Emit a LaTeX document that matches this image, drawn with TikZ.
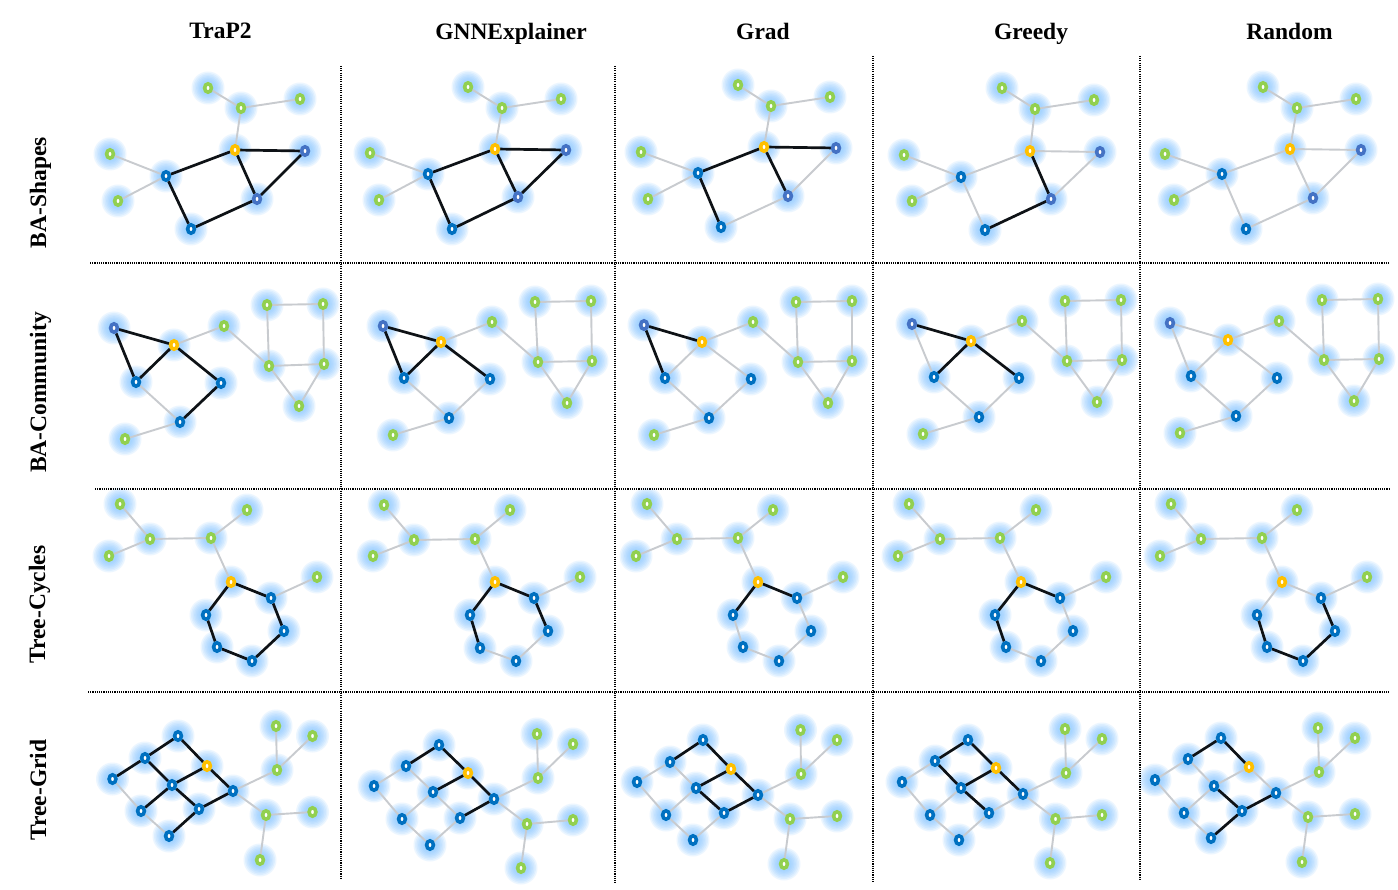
\documentclass[tikz,border=0pt]{standalone}
\usepackage{fontspec}
\setmainfont{Liberation Serif}
\usetikzlibrary{shapes.geometric}
\pgfdeclarelayer{glowl}
\pgfdeclarelayer{edgel}
\pgfsetlayers{glowl,edgel,main}
\definecolor{cgreen}{HTML}{92D050}
\definecolor{cblue}{HTML}{0070C0}
\definecolor{cpurp}{HTML}{4472C4}
\definecolor{corange}{HTML}{FFC000}
\definecolor{glowc}{HTML}{7DC3FF}
\definecolor{edgegray}{HTML}{C8CBCF}
\definecolor{edgeblack}{HTML}{0E1216}
\tikzset{
  vtx/.style={ellipse, minimum width=6.8pt, minimum height=8.4pt, inner sep=0pt, line width=3.6pt, fill=white},
  ngreen/.style={vtx, draw=cgreen},
  nblue/.style={vtx, draw=cblue},
  npurp/.style={vtx, draw=cpurp},
  norange/.style={vtx, draw=corange},
  glow/.style={fill=glowc, opacity=0.14},
  gedge/.style={draw=edgegray, line width=1.9pt},
  bedge/.style={draw=edgeblack, line width=2.7pt},
  sepline/.style={draw=black, line width=1.1pt, dash pattern=on 1.1pt off 1.1pt},
  hdr/.style={font=\fontsize{23.5}{28}\selectfont\bfseries, inner sep=0pt, anchor=base},
  rowlab/.style={hdr, rotate=90},
}
\newcommand\nd[4]{\begin{pgfonlayer}{glowl}\foreach \r in {16.5,15,13.5,12,10.5,9,7.5}{\fill[glow] (#3,#4) circle (\r);}\end{pgfonlayer}\node[#1] (#2) at (#3,#4) {};}
\begin{document}
\begin{tikzpicture}[x=1pt,y=-1pt]
\begin{pgfonlayer}{glowl}
\fill[white] (0,0) rectangle (1398,890);
\end{pgfonlayer}
\useasboundingbox (0,0) rectangle (1398,890);

% headers
\node[hdr] (h1) at (220.5,39) {TraP2};
\node[hdr] (h2) at (511,39.5) {GNNExplainer};
\node[hdr] (h3) at (763,40) {Grad};
\node[hdr] (h4) at (1031,40) {Greedy};
\node[hdr] (h5) at (1289.5,40) {Random};
% row labels
\node[rowlab] (l1) at (46,192.5) {BA-Shapes};
\node[rowlab] (l2) at (46,392.5) {BA-Community};
\node[rowlab] (l3) at (45,604.5) {Tree-Cycles};
\node[rowlab] (l4) at (46,790) {Tree-Grid};

% separators
\draw[sepline] (341,66) -- (341,878);
\draw[sepline] (615,66) -- (615,883);
\draw[sepline] (873,56) -- (873,882);
\draw[sepline] (1140,56) -- (1140,879);
\draw[sepline] (90,263) -- (1390,263);
\draw[sepline] (95,489) -- (1390,489);
\draw[sepline] (88,692) -- (1390,692);

% ---------------- Row A: BA-Shapes
\nd{ngreen}{A1g1}{208}{88}\nd{ngreen}{A1g2}{241}{108}\nd{ngreen}{A1g3}{300}{99}\nd{norange}{A1o}{235}{150}\nd{npurp}{A1p1}{305}{151}
\nd{ngreen}{A1g4}{110}{154}\nd{nblue}{A1b1}{166}{176}\nd{ngreen}{A1g5}{118}{201}\nd{npurp}{A1p2}{257}{199}\nd{nblue}{A1b2}{191}{229}

\nd{ngreen}{A2g1}{468}{87}\nd{ngreen}{A2g2}{502}{108}\nd{ngreen}{A2g3}{561}{99}\nd{norange}{A2o}{495}{149}\nd{npurp}{A2p1}{566}{150}
\nd{ngreen}{A2g4}{370}{153}\nd{nblue}{A2b1}{428}{174}\nd{ngreen}{A2g5}{379}{200}\nd{npurp}{A2p2}{518}{197}\nd{nblue}{A2b2}{452}{229}

\nd{ngreen}{A3g1}{738}{85}\nd{ngreen}{A3g2}{771}{106}\nd{ngreen}{A3g3}{830}{97}\nd{norange}{A3o}{764}{147}\nd{npurp}{A3p1}{836}{148}
\nd{ngreen}{A3g4}{641}{152}\nd{nblue}{A3b1}{698}{173}\nd{ngreen}{A3g5}{648}{199}\nd{npurp}{A3p2}{788}{196}\nd{nblue}{A3b2}{721}{227}

\nd{ngreen}{A4g1}{1002}{88}\nd{ngreen}{A4g2}{1035}{109}\nd{ngreen}{A4g3}{1094}{100}\nd{norange}{A4o}{1030}{151}\nd{npurp}{A4p1}{1100}{152}
\nd{ngreen}{A4g4}{904}{155}\nd{nblue}{A4b1}{961}{177}\nd{ngreen}{A4g5}{912}{201}\nd{npurp}{A4p2}{1051}{199}\nd{nblue}{A4b2}{985}{230}

\nd{ngreen}{A5g1}{1263}{87}\nd{ngreen}{A5g2}{1297}{108}\nd{ngreen}{A5g3}{1356}{99}\nd{norange}{A5o}{1290}{149}\nd{npurp}{A5p1}{1361}{150}
\nd{ngreen}{A5g4}{1165}{154}\nd{nblue}{A5b1}{1222}{174}\nd{ngreen}{A5g5}{1174}{200}\nd{npurp}{A5p2}{1313}{198}\nd{nblue}{A5b2}{1246}{229}

% ---------------- Row B: BA-Community
\nd{npurp}{B1p}{114}{328}\nd{norange}{B1o}{174}{345}\nd{ngreen}{B1g1}{224}{326}\nd{nblue}{B1b1}{136}{382}\nd{nblue}{B1b2}{221}{383}\nd{nblue}{B1b3}{180}{422}\nd{ngreen}{B1g2}{125}{439}
\nd{ngreen}{B1ga}{267}{305}\nd{ngreen}{B1gb}{323}{304}\nd{ngreen}{B1gc}{269}{366}\nd{ngreen}{B1gd}{324}{364}\nd{ngreen}{B1ge}{299}{406}

\nd{npurp}{B2p}{383}{326}\nd{norange}{B2o}{441}{342}\nd{ngreen}{B2g1}{492}{322}\nd{nblue}{B2b1}{404}{378}\nd{nblue}{B2b2}{490}{379}\nd{nblue}{B2b3}{449}{418}\nd{ngreen}{B2g2}{393}{435}
\nd{ngreen}{B2ga}{535}{302}\nd{ngreen}{B2gb}{591}{301}\nd{ngreen}{B2gc}{538}{362}\nd{ngreen}{B2gd}{592}{361}\nd{ngreen}{B2ge}{567}{403}

\nd{npurp}{B3p}{644}{325}\nd{norange}{B3o}{702}{342}\nd{ngreen}{B3g1}{753}{322}\nd{nblue}{B3b1}{665}{378}\nd{nblue}{B3b2}{751}{379}\nd{nblue}{B3b3}{709}{418}\nd{ngreen}{B3g2}{654}{435}
\nd{ngreen}{B3ga}{796}{302}\nd{ngreen}{B3gb}{852}{301}\nd{ngreen}{B3gc}{798}{362}\nd{ngreen}{B3gd}{852}{361}\nd{ngreen}{B3ge}{828}{403}

\nd{npurp}{B4p}{912}{324}\nd{norange}{B4o}{971}{341}\nd{ngreen}{B4g1}{1022}{321}\nd{nblue}{B4b1}{934}{377}\nd{nblue}{B4b2}{1019}{378}\nd{nblue}{B4b3}{979}{417}\nd{ngreen}{B4g2}{923}{434}
\nd{ngreen}{B4ga}{1065}{301}\nd{ngreen}{B4gb}{1121}{300}\nd{ngreen}{B4gc}{1067}{361}\nd{ngreen}{B4gd}{1122}{360}\nd{ngreen}{B4ge}{1097}{402}

\nd{npurp}{B5p}{1170}{323}\nd{norange}{B5o}{1228}{340}\nd{ngreen}{B5g1}{1279}{321}\nd{nblue}{B5b1}{1191}{376}\nd{nblue}{B5b2}{1277}{378}\nd{nblue}{B5b3}{1236}{416}\nd{ngreen}{B5g2}{1180}{433}
\nd{ngreen}{B5ga}{1322}{300}\nd{ngreen}{B5gb}{1378}{299}\nd{ngreen}{B5gc}{1324}{360}\nd{ngreen}{B5gd}{1379}{359}\nd{ngreen}{B5ge}{1354}{401}

% ---------------- Row C: Tree-Cycles
\nd{ngreen}{C1t1}{120}{504}\nd{ngreen}{C1t2}{150}{539}\nd{ngreen}{C1t3}{109}{556}\nd{ngreen}{C1t4}{211}{538}\nd{ngreen}{C1t5}{247}{510}\nd{norange}{C1o}{231}{582}
\nd{nblue}{C1c1}{271}{598}\nd{ngreen}{C1g6}{317}{577}\nd{nblue}{C1c2}{206}{615}\nd{nblue}{C1c3}{284}{631}\nd{nblue}{C1c4}{217}{647}\nd{nblue}{C1c5}{252}{661}

\nd{ngreen}{C2t1}{384}{505}\nd{ngreen}{C2t2}{414}{540}\nd{ngreen}{C2t3}{373}{556}\nd{ngreen}{C2t4}{475}{539}\nd{ngreen}{C2t5}{510}{510}\nd{norange}{C2o}{495}{582}
\nd{nblue}{C2c1}{534}{598}\nd{ngreen}{C2g6}{580}{577}\nd{nblue}{C2c2}{470}{615}\nd{nblue}{C2c3}{548}{631}\nd{nblue}{C2c4}{480}{648}\nd{nblue}{C2c5}{516}{661}

\nd{ngreen}{C3t1}{647}{504}\nd{ngreen}{C3t2}{677}{539}\nd{ngreen}{C3t3}{636}{556}\nd{ngreen}{C3t4}{738}{538}\nd{ngreen}{C3t5}{773}{510}\nd{norange}{C3o}{758}{582}
\nd{nblue}{C3c1}{797}{598}\nd{ngreen}{C3g6}{843}{577}\nd{nblue}{C3c2}{733}{615}\nd{nblue}{C3c3}{811}{631}\nd{nblue}{C3c4}{743}{647}\nd{nblue}{C3c5}{779}{661}

\nd{ngreen}{C4t1}{909}{504}\nd{ngreen}{C4t2}{940}{539}\nd{ngreen}{C4t3}{898}{556}\nd{ngreen}{C4t4}{1000}{538}\nd{ngreen}{C4t5}{1036}{510}\nd{norange}{C4o}{1021}{582}
\nd{nblue}{C4c1}{1060}{598}\nd{ngreen}{C4g6}{1106}{577}\nd{nblue}{C4c2}{995}{615}\nd{nblue}{C4c3}{1073}{631}\nd{nblue}{C4c4}{1006}{647}\nd{nblue}{C4c5}{1041}{661}

\nd{ngreen}{C5t1}{1171}{504}\nd{ngreen}{C5t2}{1201}{539}\nd{ngreen}{C5t3}{1160}{556}\nd{ngreen}{C5t4}{1262}{538}\nd{ngreen}{C5t5}{1297}{510}\nd{norange}{C5o}{1282}{582}
\nd{nblue}{C5c1}{1321}{598}\nd{ngreen}{C5g6}{1367}{577}\nd{nblue}{C5c2}{1257}{615}\nd{nblue}{C5c3}{1335}{631}\nd{nblue}{C5c4}{1267}{647}\nd{nblue}{C5c5}{1303}{661}

% ---------------- Row D: Tree-Grid
\nd{nblue}{D1a}{178}{736}\nd{nblue}{D1b}{145}{758}\nd{nblue}{D1c}{112.5}{779}\nd{norange}{D1o}{207}{766}\nd{nblue}{D1d}{172}{785}\nd{nblue}{D1e}{141}{811}\nd{nblue}{D1f}{233}{791}\nd{nblue}{D1g}{199}{809}\nd{nblue}{D1h}{169}{836}
\nd{ngreen}{D1G1}{276}{726}\nd{ngreen}{D1G2}{312.5}{736}\nd{ngreen}{D1G3}{277}{770}\nd{ngreen}{D1G4}{266}{815}\nd{ngreen}{D1G5}{312.5}{812}\nd{ngreen}{D1G6}{260}{860}

\nd{nblue}{D2a}{439}{745}\nd{nblue}{D2b}{406}{766}\nd{nblue}{D2c}{374}{786}\nd{norange}{D2o}{468}{773}\nd{nblue}{D2d}{433}{792}\nd{nblue}{D2e}{402}{819}\nd{nblue}{D2f}{494}{799}\nd{nblue}{D2g}{460}{818}\nd{nblue}{D2h}{430}{845}
\nd{ngreen}{D2G1}{537}{734}\nd{ngreen}{D2G2}{573}{744}\nd{ngreen}{D2G3}{538}{778}\nd{ngreen}{D2G4}{527}{824}\nd{ngreen}{D2G5}{573}{820}\nd{ngreen}{D2G6}{521}{868}

\nd{nblue}{D3a}{703}{740}\nd{nblue}{D3b}{670}{762}\nd{nblue}{D3c}{637}{782}\nd{norange}{D3o}{731}{769}\nd{nblue}{D3d}{696}{788}\nd{nblue}{D3e}{666}{815}\nd{nblue}{D3f}{758}{795}\nd{nblue}{D3g}{724}{813}\nd{nblue}{D3h}{693}{840}
\nd{ngreen}{D3G1}{800.5}{730}\nd{ngreen}{D3G2}{837}{740}\nd{ngreen}{D3G3}{801}{774}\nd{ngreen}{D3G4}{790}{819}\nd{ngreen}{D3G5}{837}{816}\nd{ngreen}{D3G6}{784}{864}

\nd{nblue}{D4a}{968}{740}\nd{nblue}{D4b}{935}{761}\nd{nblue}{D4c}{902}{782}\nd{norange}{D4o}{996}{768}\nd{nblue}{D4d}{961}{788}\nd{nblue}{D4e}{930}{815}\nd{nblue}{D4f}{1023}{794}\nd{nblue}{D4g}{989}{813}\nd{nblue}{D4h}{959}{840}
\nd{ngreen}{D4G1}{1065}{729}\nd{ngreen}{D4G2}{1102}{739}\nd{ngreen}{D4G3}{1066}{773}\nd{ngreen}{D4G4}{1055.5}{819}\nd{ngreen}{D4G5}{1102}{815}\nd{ngreen}{D4G6}{1050}{863}

\nd{nblue}{D5a}{1221}{738}\nd{nblue}{D5b}{1188}{759}\nd{nblue}{D5c}{1155}{780}\nd{norange}{D5o}{1249}{767}\nd{nblue}{D5d}{1214}{786}\nd{nblue}{D5e}{1184}{813}\nd{nblue}{D5f}{1276}{793}\nd{nblue}{D5g}{1242}{811}\nd{nblue}{D5h}{1211}{838}
\nd{ngreen}{D5G1}{1318}{728}\nd{ngreen}{D5G2}{1355}{738}\nd{ngreen}{D5G3}{1319}{772}\nd{ngreen}{D5G4}{1308}{817}\nd{ngreen}{D5G5}{1355}{814}\nd{ngreen}{D5G6}{1302}{862}

% ---------------- edges
\begin{pgfonlayer}{edgel}
% Row A
\foreach \p in {A1,A2,A3,A4,A5}
  \foreach \u/\v in {g1/g2,g2/g3,g2/o,g4/b1,g5/b1}
    \draw[gedge] (\p\u) -- (\p\v);
\foreach \p/\u/\v in {A3/p1/p2,A3/b2/p2,A4/b1/o,A4/o/p1,A4/p1/p2,A4/b1/b2,
    A5/b1/o,A5/o/p1,A5/o/p2,A5/p1/p2,A5/b1/b2,A5/b2/p2}
  \draw[gedge] (\p\u) -- (\p\v);
\foreach \p/\u/\v in {A1/b1/o,A1/o/p1,A1/o/p2,A1/p1/p2,A1/b1/b2,A1/b2/p2,
    A2/b1/o,A2/o/p1,A2/o/p2,A2/p1/p2,A2/b1/b2,A2/b2/p2,
    A3/b1/o,A3/o/p1,A3/o/p2,A3/b1/b2,A4/o/p2,A4/b2/p2}
  \draw[bedge] (\p\u) -- (\p\v);
% Row B
\foreach \p in {B1,B2,B3,B4,B5}
  \foreach \u/\v in {o/g1,b3/g2,g1/gc,ga/gb,ga/gc,gb/gd,gc/gd,gc/ge,gd/ge}
    \draw[gedge] (\p\u) -- (\p\v);
\foreach \p/\u/\v in {B1/b1/b3,B2/b2/b3,B2/b1/b3,B3/o/b1,B3/o/b2,B3/b2/b3,B3/b1/b3,
    B4/p/b1,B4/b2/b3,B4/b1/b3,B5/p/o,B5/p/b1,B5/o/b1,B5/o/b2,B5/b2/b3,B5/b1/b3}
  \draw[gedge] (\p\u) -- (\p\v);
\foreach \p/\u/\v in {B1/p/o,B1/p/b1,B1/o/b1,B1/o/b2,B1/b2/b3,
    B2/p/o,B2/p/b1,B2/o/b1,B2/o/b2,B3/p/o,B3/p/b1,B4/p/o,B4/o/b1,B4/o/b2}
  \draw[bedge] (\p\u) -- (\p\v);
% Row C
\foreach \p in {C1,C2,C3,C4,C5}
  \foreach \u/\v in {t1/t2,t3/t2,t2/t4,t4/t5,t4/o,c1/g6}
    \draw[gedge] (\p\u) -- (\p\v);
\foreach \p/\u/\v in {C2/c4/c5,C2/c5/c3,C3/c2/c4,C3/c4/c5,C3/c5/c3,C3/c3/c1,
    C4/c4/c5,C4/c5/c3,C4/c3/c1,C5/o/c1,C5/o/c2}
  \draw[gedge] (\p\u) -- (\p\v);
\foreach \p/\u/\v in {C1/o/c1,C1/o/c2,C1/c2/c4,C1/c4/c5,C1/c5/c3,C1/c3/c1,
    C2/o/c1,C2/o/c2,C2/c2/c4,C2/c3/c1,C3/o/c1,C3/o/c2,C4/o/c1,C4/o/c2,C4/c2/c4,
    C5/c3/c1,C5/c5/c3,C5/c4/c5,C5/c2/c4}
  \draw[bedge] (\p\u) -- (\p\v);
% Row D
\foreach \p in {D1,D2,D3,D4,D5}
  \foreach \u/\v in {f/G3,f/G4,G3/G1,G3/G2,G4/G5,G4/G6}
    \draw[gedge] (\p\u) -- (\p\v);
\foreach \p/\u/\v in {D1/c/e,D1/e/h,
    D2/b/c,D2/b/d,D2/d/e,D2/d/g,D2/c/e,D2/e/h,D2/g/h,
    D3/b/c,D3/b/d,D3/d/e,D3/c/e,D3/e/h,D3/g/h,
    D4/b/c,D4/d/e,D4/c/e,D4/e/h,D4/f/g,D4/g/h,
    D5/b/c,D5/o/d,D5/o/f,D5/b/d,D5/d/e,D5/c/e,D5/e/h}
  \draw[gedge] (\p\u) -- (\p\v);
\foreach \p/\u/\v in {D1/b/c,D1/a/b,D1/a/o,D1/b/d,D1/o/d,D1/o/f,D1/d/e,D1/d/g,D1/f/g,D1/g/h,
    D2/a/b,D2/a/o,D2/o/d,D2/o/f,D2/f/g,
    D3/a/b,D3/a/o,D3/o/d,D3/o/f,D3/d/g,D3/f/g,
    D4/a/b,D4/a/o,D4/o/d,D4/o/f,D4/b/d,D4/d/g,
    D5/a/b,D5/a/o,D5/d/g,D5/f/g,D5/g/h}
  \draw[bedge] (\p\u) -- (\p\v);
\end{pgfonlayer}
\end{tikzpicture}
\end{document}
